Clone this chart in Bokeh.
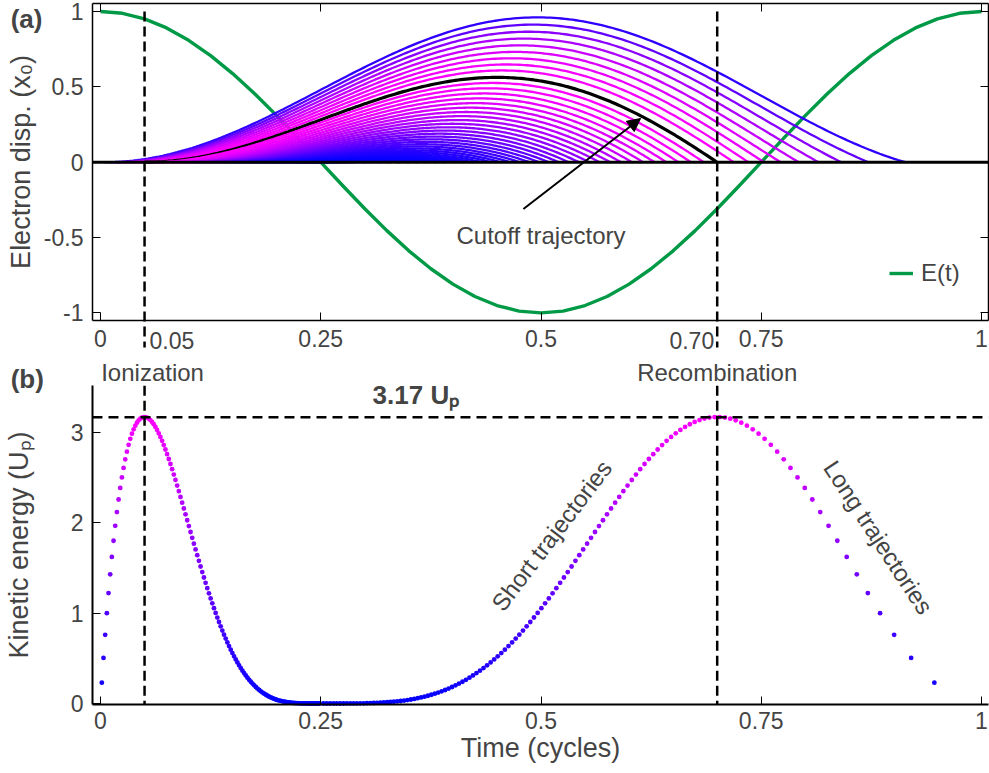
import numpy as np
from bokeh.plotting import figure
from bokeh.layouts import column
from bokeh.models import (Label, Arrow, NormalHead, Legend, LegendItem,
                          LinearAxis, FixedTicker, Range1d)
from bokeh.embed import file_html
from bokeh.resources import INLINE

FONT = "Liberation Sans"

# ---------------- data ----------------
# driving field E(t) (normalised)
field_t = [0.000, 0.025, 0.050, 0.075, 0.100, 0.125, 0.150, 0.175, 0.200, 0.225,
           0.250, 0.275, 0.300, 0.325, 0.350, 0.375, 0.400, 0.425, 0.450, 0.475,
           0.500, 0.525, 0.550, 0.575, 0.600, 0.625, 0.650, 0.675, 0.700, 0.725,
           0.750, 0.775, 0.800, 0.825, 0.850, 0.875, 0.900, 0.925, 0.950, 0.975, 1.000]
field_e = [1.000, 0.988, 0.951, 0.891, 0.809, 0.707, 0.588, 0.454, 0.309, 0.156,
           0.000, -0.156, -0.309, -0.454, -0.588, -0.707, -0.809, -0.891, -0.951, -0.988,
           -1.000, -0.988, -0.951, -0.891, -0.809, -0.707, -0.588, -0.454, -0.309, -0.156,
           0.000, 0.156, 0.309, 0.454, 0.588, 0.707, 0.809, 0.891, 0.951, 0.988, 1.000]

# ionization times (cycles) of the drawn trajectories
traj_ion_long = [0.004, 0.009, 0.014, 0.019, 0.024, 0.029, 0.034, 0.039, 0.044]
cutoff_ion = 0.05
cutoff_rec = 0.70
cutoff_ke = 3.17
traj_ion_short = [0.055, 0.060, 0.065, 0.070, 0.075, 0.080, 0.085, 0.090, 0.095, 0.100,
                  0.105, 0.110, 0.115, 0.120, 0.125, 0.130, 0.135, 0.140, 0.145, 0.150,
                  0.155, 0.160, 0.165, 0.170, 0.175, 0.180, 0.185, 0.190, 0.195, 0.200,
                  0.205, 0.210, 0.215, 0.220, 0.225, 0.230, 0.235, 0.240, 0.245]
# ionization times of the kinetic-energy dots (panel b)
dot_ion = list(np.round(np.arange(0.0015, 0.2500, 0.0019), 5))

x_ticks = [0, 0.25, 0.5, 0.75, 1]
ya_ticks = [-1, -0.5, 0, 0.5, 1]
yb_ticks = [0, 1, 2, 3]


# ---------------- classical electron motion in E(t) ----------------
def displacement(t, t0):
    p, p0 = 2 * np.pi * np.asarray(t), 2 * np.pi * t0
    return (np.cos(p0) - np.cos(p) - (p - p0) * np.sin(p0)) / 2.0


def recombination(t0):
    p0 = 2 * np.pi * t0
    d = np.linspace(1e-5, 2 * np.pi, 200001)
    g = (2 * np.sin(p0 + d / 2) * np.sin(d / 2) - d * np.sin(p0)) / d ** 2
    neg = np.nonzero(g < 0)[0]
    if len(neg) == 0:
        return t0 + 1.0
    i = neg[0]
    d1, d2, g1, g2 = d[i - 1], d[i], g[i - 1], g[i]
    dr = d1 + (d2 - d1) * g1 / (g1 - g2)
    return t0 + dr / (2 * np.pi)


def kinetic(t0, tr):
    return 2 * (np.sin(2 * np.pi * tr) - np.sin(2 * np.pi * t0)) ** 2


def ke_color(ke):
    r = int(round(255 * min(max(ke / cutoff_ke, 0), 1)))
    return "#%02x00ff" % r


# plot-box limits (data units) and the canvas extents around them
X0, X1 = -0.0091, 1.008          # frame box in x
XC = (-0.11351, 1.00908)         # whole canvas width in x
YA0, YA1 = -1.05, 1.053          # panel (a) box
YB0, YB1 = -0.01, 3.52           # panel (b) box

TICK_FS = "23px"
LAB_FS = "27px"
ANN_FS = "24px"


def style_axis(a, width):
    a.major_tick_in = 8
    a.major_tick_out = 0
    a.minor_tick_line_color = None
    a.major_label_text_font = FONT
    a.major_label_text_font_size = TICK_FS
    a.axis_label_text_font = FONT
    a.axis_label_text_font_size = LAB_FS
    a.axis_label_text_font_style = "normal"
    a.axis_line_width = width


def box_axis(ticks, loc, bounds, width):
    return LinearAxis(ticker=FixedTicker(ticks=ticks), fixed_location=loc, bounds=bounds,
                      major_tick_in=8, major_tick_out=0, minor_tick_line_color=None,
                      major_label_text_color=None, axis_line_width=width)


# ---------------- panel (a) ----------------
p1 = figure(width=989, height=360, x_range=Range1d(*XC), y_range=Range1d(-1.3158, 1.0730),
            output_backend="svg", toolbar_location=None, min_border=0,
            min_border_left=0, min_border_right=0, min_border_top=0, min_border_bottom=0)
p1.grid.visible = False
p1.outline_line_color = None
p1.background_fill_color = "white"

green = p1.line(field_t, field_e, line_color="#009a46", line_width=3.4, line_join="round")

all_ion = traj_ion_long + [cutoff_ion] + traj_ion_short
for t0 in all_ion:
    tr = recombination(t0)
    ts = np.linspace(t0, tr, 220)
    xs = displacement(ts, t0)
    if t0 == cutoff_ion:
        p1.line(ts, xs, line_color="black", line_width=3.2)
    else:
        p1.line(ts, xs, line_color=ke_color(kinetic(t0, tr)), line_width=2.3)

# zero line
p1.line([X0, X1], [0, 0], line_color="black", line_width=3)
# ionization / recombination markers
p1.segment(x0=[cutoff_ion, cutoff_rec], y0=[1.0, 1.0], x1=[cutoff_ion, cutoff_rec],
           y1=[-1.23, -1.23], line_color="black", line_width=2.5, line_dash="10 5")

p1.add_layout(Arrow(end=NormalHead(size=13, fill_color="black", line_color="black"),
                    x_start=0.48, y_start=-0.31, x_end=0.613, y_end=0.29,
                    line_color="black", line_width=2))
p1.add_layout(Label(x=0.50, y=-0.486, text="Cutoff trajectory", text_align="center",
                    text_baseline="middle", text_font=FONT, text_font_size=ANN_FS))

legend = Legend(items=[LegendItem(label="E(t)", renderers=[green])],
                location=(889, 73), label_text_font=FONT, label_text_font_size=ANN_FS,
                glyph_width=24, label_standoff=8, padding=0, margin=0, spacing=0,
                border_line_alpha=0, background_fill_alpha=0)
p1.add_layout(legend)

ax = p1.xaxis[0]
ax.ticker = FixedTicker(ticks=x_ticks)
ax.fixed_location = YA0
ax.bounds = (X0, X1)
ay = p1.yaxis[0]
ay.ticker = FixedTicker(ticks=ya_ticks)
ay.fixed_location = X0
ay.bounds = (YA0, YA1)
ay.major_label_overrides = {-1: "-1", -0.5: "-0.5", 0: "0", 0.5: "0.5", 1: "1"}
ay.axis_label = "Electron disp. (x\u2080)"
style_axis(ax, 1.5)
style_axis(ay, 1.5)
ax.major_label_standoff = 10
ay.major_label_standoff = 9
ay.axis_label_standoff = 5

p1.add_layout(box_axis(x_ticks, YA1, (X0, X1), 1.5), "above")
p1.add_layout(box_axis(ya_ticks, X1, (YA0, YA1), 1.5), "right")

p1.add_layout(Label(x=cutoff_ion, y=-1.183, x_offset=5, text="0.05", text_align="left",
                    text_baseline="middle", text_font=FONT, text_font_size=TICK_FS))
p1.add_layout(Label(x=cutoff_rec, y=-1.183, x_offset=-3, text="0.70", text_align="right",
                    text_baseline="middle", text_font=FONT, text_font_size=TICK_FS))
p1.add_layout(Label(x=-0.102, y=0.9535, text="(a)", text_align="left", text_baseline="middle",
                    text_font=FONT, text_font_size="26px", text_font_style="bold"))

# ---------------- panel (b) ----------------
p2 = figure(width=989, height=413, x_range=Range1d(*XC), y_range=Range1d(-0.7752, 3.7985),
            output_backend="svg", toolbar_location=None, min_border=0,
            min_border_left=0, min_border_right=0, min_border_top=0, min_border_bottom=0)
p2.grid.visible = False
p2.outline_line_color = None

ion_x, rec_x, ke_y, cols = [], [], [], []
for t0 in dot_ion:
    tr = recombination(t0)
    ke = kinetic(t0, tr)
    ion_x.append(t0)
    rec_x.append(tr)
    ke_y.append(ke)
    cols.append(ke_color(ke))

p2.scatter(ion_x, ke_y, size=4.8, fill_color=cols, line_color=None)
p2.scatter(rec_x, ke_y, size=4.8, fill_color=cols, line_color=None)

p2.segment(x0=[cutoff_ion, cutoff_rec], y0=[YB1, YB1], x1=[cutoff_ion, cutoff_rec],
           y1=[YB0, YB0], line_color="black", line_width=2.5, line_dash="10 5")
p2.segment(x0=[X0], y0=[cutoff_ke], x1=[X1], y1=[cutoff_ke],
           line_color="black", line_width=2.5, line_dash="10 6")

bx = p2.xaxis[0]
bx.ticker = FixedTicker(ticks=x_ticks)
bx.fixed_location = YB0
bx.bounds = (X0, X1)
bx.axis_label = "Time (cycles)"
by = p2.yaxis[0]
by.ticker = FixedTicker(ticks=yb_ticks)
by.fixed_location = X0
by.bounds = (YB0, YB1)
by.axis_label = "Kinetic energy (U\u209a)"
style_axis(bx, 2)
style_axis(by, 2)
bx.major_label_standoff = 8
bx.axis_label_standoff = 0
by.major_label_standoff = 9
by.axis_label_standoff = 34

p2.add_layout(Label(x=cutoff_ion, y=3.666, x_offset=8, text="Ionization", text_align="center",
                    text_baseline="middle", text_font=FONT, text_font_size=ANN_FS))
p2.add_layout(Label(x=cutoff_rec, y=3.666, text="Recombination", text_align="center",
                    text_baseline="middle", text_font=FONT, text_font_size=ANN_FS))
p2.add_layout(Label(x=-0.102, y=3.599, text="(b)", text_align="left", text_baseline="middle",
                    text_font=FONT, text_font_size="26px", text_font_style="bold"))
p2.add_layout(Label(x=0.358, y=3.42, text="3.17 U\u209a", text_align="center",
                    text_baseline="middle", text_font=FONT, text_font_size="26px",
                    text_font_style="bold"))
p2.add_layout(Label(x=0.512, y=1.86, text="Short trajectories", angle=np.radians(52.8),
                    text_align="center", text_baseline="middle", text_font=FONT,
                    text_font_size=ANN_FS))
p2.add_layout(Label(x=0.883, y=1.84, text="Long trajectories", angle=np.radians(-56.7),
                    text_align="center", text_baseline="middle", text_font=FONT,
                    text_font_size=ANN_FS))

layout = column(p1, p2, spacing=0)
open("out.html", "w").write(file_html(layout, INLINE))
